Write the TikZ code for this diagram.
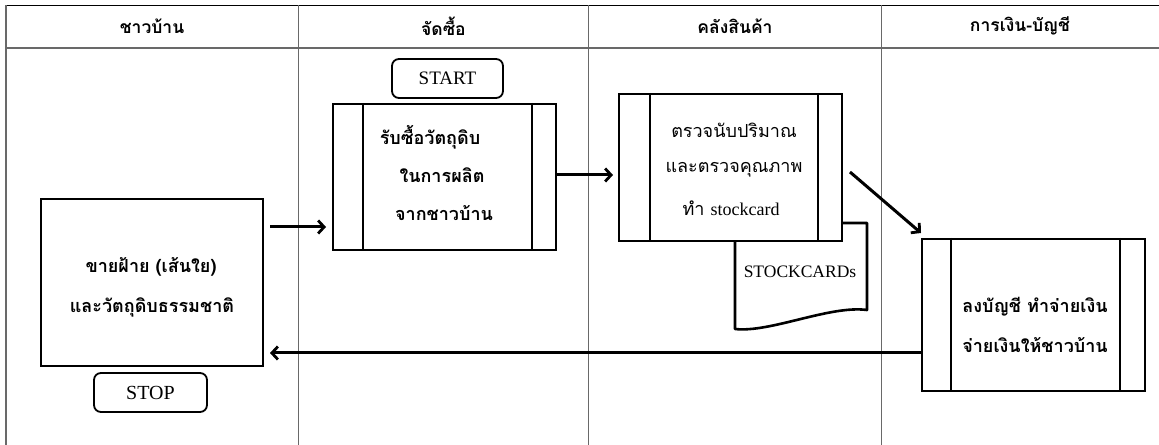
\documentclass[tikz,border=0pt]{standalone}
\usepackage{fontspec}
\setmainfont{Liberation Serif}
\newfontfamily\thai[Script=Thai]{Loma}
\usetikzlibrary{arrows.meta,calc}
\definecolor{grid}{RGB}{105,105,105}
\tikzset{
  gridline/.style={draw=grid,line width=1.3bp},
  box/.style={draw=black,line width=2.2bp,rectangle,inner sep=0pt},
  term/.style={draw=black,line width=1.8bp,rounded corners=7bp,inner sep=0pt},
  head/.style={font=\thai\bfseries\fontsize{17.5bp}{20bp}\selectfont,inner sep=0pt},
  tb/.style={font=\thai\bfseries\fontsize{18bp}{20bp}\selectfont,inner sep=0pt},
  tr/.style={font=\thai\fontsize{18bp}{20bp}\selectfont,inner sep=0pt},
  lat/.style={font=\fontsize{17.5bp}{20bp}\selectfont,inner sep=0pt},
  arr/.style={line width=3bp,-{Straight Barb[length=6bp,width=13bp,line width=2.8bp]}},
}
\begin{document}
\begin{tikzpicture}[x=1bp,y=-1bp]
\useasboundingbox (0,0) rectangle (1159,445);
% table
\draw[black,line width=1.4bp] (6,5.5) -- (1159,5.5);
\draw[grid,line width=2bp] (6,48) -- (1159,48);
\foreach \x in {6,298.5,588.5,881.5} \draw[gridline] (\x,5.5) -- (\x,445);
\node[head] (h1) at (152,26) {ชาวบ้าน};
\node[head] (h2) at (443.5,26) {จัดซื้อ};
\node[head] (h3) at (735,26) {คลังสินค้า};
\node[head] (h4) at (1020,26) {การเงิน-บัญชี};
% villagers
\node[box,minimum width=222bp,minimum height=167bp] (v) at (152,282.5) {};
\node[tb] (v1) at (151,267) {ขายฝ้าย (เส้นใย)};
\node[tb] (v2) at (152,307) {และวัตถุดิบธรรมชาติ};
\node[term,minimum width=113bp,minimum height=39bp,font=\fontsize{20bp}{22bp}\selectfont] (stop) at (150.5,392.5) {STOP};
% purchasing
\node[term,minimum width=111bp,minimum height=39bp,font=\fontsize{19bp}{22bp}\selectfont] (start) at (447.5,78.5) {START};
\node[box,minimum width=223bp,minimum height=146bp] (p1) at (444.5,177) {};
\draw[black,line width=2.2bp] ([xshift=31bp]p1.north west) -- ([xshift=31bp]p1.south west);
\draw[black,line width=2.2bp] ([xshift=-25bp]p1.north east) -- ([xshift=-25bp]p1.south east);
\node[tb] (p1a) at (430,137) {รับซื้อวัตถุดิบ};
\node[tb] (p1b) at (442,175) {ในการผลิต};
\node[tb] (p1c) at (444,213) {จากชาวบ้าน};
% warehouse
\node[box,minimum width=223bp,minimum height=147bp] (p2) at (730.5,167.5) {};
\draw[black,line width=2.2bp] ([xshift=32bp]p2.north west) -- ([xshift=32bp]p2.south west);
\draw[black,line width=2.2bp] ([xshift=-25bp]p2.north east) -- ([xshift=-25bp]p2.south east);
\node[tr] (p2a) at (734,130) {ตรวจนับปริมาณ};
\node[tr] (p2b) at (734,170) {และตรวจคุณภาพ};
\node[tr] (p2c) at (731,208) {ทำ {\fontspec{Liberation Serif}stockcard}};
\draw[black,line width=2.6bp,line join=round] (735,241) -- (735,329)
  .. controls (770,333) and (830,305) .. (867,310) -- (867,223) -- (842,223);
\node[lat] (doc) at (800,272) {STOCKCARDs};
% finance
\node[box,minimum width=223bp,minimum height=152bp] (p3) at (1033.5,315) {};
\draw[black,line width=2.2bp] ([xshift=30bp]p3.north west) -- ([xshift=30bp]p3.south west);
\draw[black,line width=2.2bp] ([xshift=-26bp]p3.north east) -- ([xshift=-26bp]p3.south east);
\node[tb] (p3a) at (1035,307) {ลงบัญชี ทำจ่ายเงิน};
\node[tb] (p3b) at (1035,345) {จ่ายเงินให้ชาวบ้าน};
% arrows
\coordinate (a1s) at (270,227);
\coordinate (a1e) at (326,227);
\draw[arr] (a1s) -- (a1e);
\coordinate (a2e) at (613,175);
\draw[arr] (p1.east |- a2e) -- (a2e);
\coordinate (a3s) at (850,172);
\coordinate (a3e) at (921,233);
\draw[arr] (a3s) -- (a3e);
\coordinate (a4e) at (270,353);
\draw[arr] (p3.west |- a4e) -- (a4e);
\end{tikzpicture}
\end{document}
